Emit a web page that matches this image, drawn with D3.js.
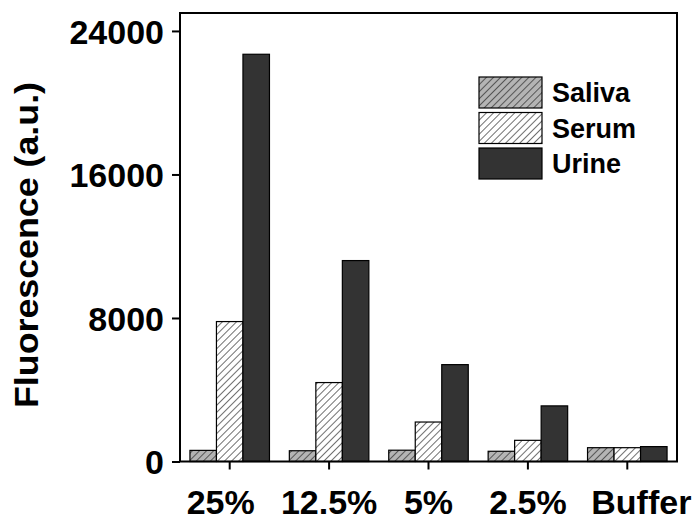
<!DOCTYPE html>
<html><head><meta charset="utf-8">
<script src="https://cdn.jsdelivr.net/npm/d3@7"></script>
<style>
html,body{margin:0;padding:0;background:#fff;}
svg text{font-family:"Liberation Sans",Arial,sans-serif;font-weight:bold;fill:#000;}
</style></head>
<body>
<svg id="chart" width="700" height="521"></svg>
<script>
const categories = ["25%", "12.5%", "5%", "2.5%", "Buffer"];
const seriesNames = ["Saliva", "Serum", "Urine"];
const saliva = [620, 600, 630, 570, 770];
const serum = [7800, 4400, 2200, 1180, 770];
const urine = [22700, 11200, 5400, 3100, 830];
const yTicks = [0, 8000, 16000, 24000];

const seriesValues = [saliva, serum, urine];
const svg = d3.select("#chart");
const L = 180, R = 677, T = 13, B = 461.5;

const defs = svg.append("defs");
function hatch(id, bg) {
  const p = defs.append("pattern").attr("id", id)
    .attr("patternUnits", "userSpaceOnUse").attr("width", 5).attr("height", 5)
    .attr("patternTransform", "rotate(45)");
  p.append("rect").attr("width", 5).attr("height", 5).attr("fill", bg);
  p.append("line").attr("x1", 0).attr("y1", 0).attr("x2", 0).attr("y2", 5)
    .attr("stroke", "#222").attr("stroke-width", 1.3);
}
hatch("hSaliva", "#b4b4b4");
hatch("hSerum", "#ffffff");
const fills = ["url(#hSaliva)", "url(#hSerum)", "#333333"];

const x = d3.scaleBand().domain(categories).range([L, R]).paddingInner(0.2).paddingOuter(0.1);
const xs = d3.scaleBand().domain(seriesNames).range([0, x.bandwidth()]);
const y = d3.scaleLinear().domain([0, 25000]).range([B, T]);

// bars
const groups = svg.append("g").selectAll("g").data(categories).join("g")
  .attr("transform", d => `translate(${x(d)},0)`);
groups.selectAll("rect").data((c, i) => seriesNames.map((s, k) => ({s, k, v: seriesValues[k][i]})))
  .join("rect")
  .attr("x", d => xs(d.s)).attr("width", xs.bandwidth())
  .attr("y", d => y(d.v)).attr("height", d => y(0) - y(d.v))
  .attr("fill", d => fills[d.k]).attr("stroke", "#000").attr("stroke-width", 1.2);

// frame
svg.append("rect").attr("x", L).attr("y", T).attr("width", R - L).attr("height", B - T)
  .attr("fill", "none").attr("stroke", "#000").attr("stroke-width", 2);

// axes
const yAxis = svg.append("g").attr("transform", `translate(${L},0)`)
  .call(d3.axisLeft(y).tickValues(yTicks).tickFormat(d3.format("d")).tickSize(8).tickPadding(8));
const xAxis = svg.append("g").attr("transform", `translate(0,${B})`)
  .call(d3.axisBottom(x).tickSize(8).tickPadding(20));
[yAxis, xAxis].forEach(a => {
  a.select(".domain").remove();
  a.selectAll(".tick line").attr("stroke", "#000").attr("stroke-width", 2);
  a.selectAll(".tick text").attr("fill", "#000");
});
yAxis.selectAll(".tick text").style("font-size", "34px").attr("dy", "0.36em");
const labelShift = {"25%": -9, "Buffer": 14};
xAxis.selectAll(".tick text").style("font-size", "34px").attr("dy", "0.71em")
  .attr("dx", d => labelShift[d] || 0);

// y title
svg.append("text").attr("transform", "translate(38,245) rotate(-90)")
  .attr("text-anchor", "middle").style("font-size", "33px")
  .attr("textLength", 326).attr("lengthAdjust", "spacingAndGlyphs")
  .text("Fluorescence (a.u.)");

// legend
const leg = svg.append("g").selectAll("g").data(seriesNames).join("g")
  .attr("transform", (d, i) => `translate(479,${77 + i * 35.5})`);
leg.append("rect").attr("width", 63).attr("height", 31)
  .attr("fill", (d, i) => fills[i]).attr("stroke", "#000").attr("stroke-width", 1.2);
leg.append("text").attr("x", 73).attr("y", 25).style("font-size", "27px").text(d => d);
</script>
</body></html>
